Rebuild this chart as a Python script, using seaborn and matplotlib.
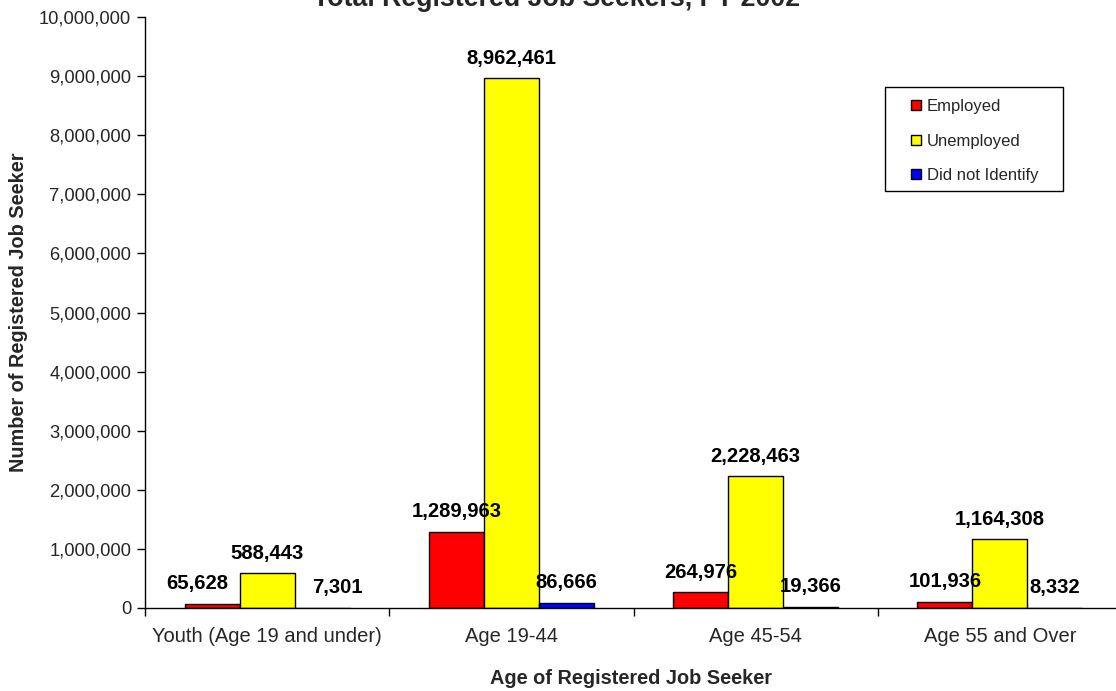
import matplotlib
matplotlib.use("Agg")
import matplotlib.pyplot as plt
import seaborn as sns
import pandas as pd
from matplotlib.ticker import FuncFormatter, FixedLocator
from matplotlib.lines import Line2D
from matplotlib.patches import Rectangle

categories = ["Youth (Age 19 and under)", "Age 19-44", "Age 45-54", "Age 55 and Over"]
series = ["Employed", "Unemployed", "Did not Identify"]
employed = [65628, 1289963, 264976, 101936]
unemployed = [588443, 8962461, 2228463, 1164308]
not_identified = [7301, 86666, 19366, 8332]
colors = ["#FF0000", "#FFFF00", "#0000FF"]
title = "Total Registered Job Seekers, FY 2002"
xlabel = "Age of Registered Job Seeker"
ylabel = "Number of Registered Job Seeker"
# horizontal nudges (px) for crowded labels, per series/category
label_dx = {("Employed", 0): -15, ("Did not Identify", 0): 15}

rows = []
for name, vals in zip(series, [employed, unemployed, not_identified]):
    for c, v in zip(categories, vals):
        rows.append({"Age": c, "Status": name, "Count": v})
df = pd.DataFrame(rows)

sns.set_theme(style="white")
plt.rcParams["font.family"] = ["Liberation Sans", "DejaVu Sans"]

W, H = 1116, 691
fig = plt.figure(figsize=(W / 100, H / 100), dpi=100)
ax = fig.add_axes([145 / W, 1 - 608 / H, (W - 145) / W, (608 - 17) / H])

sns.barplot(data=df, x="Age", y="Count", hue="Status", order=categories,
            hue_order=series, palette=colors, width=0.675, edgecolor="black",
            linewidth=1.0, saturation=1, ax=ax, legend=False, errorbar=None)

ax.set_ylim(0, 10_000_000)
ax.set_xlim(-0.5, 3.5 - 6 / 244)
ax.yaxis.set_major_locator(FixedLocator([i * 1_000_000 for i in range(11)]))
ax.yaxis.set_major_formatter(FuncFormatter(lambda v, p: f"{int(v):,}"))
ax.set_xticks(range(len(categories)))
ax.set_xticklabels(categories)
ax.xaxis.set_minor_locator(FixedLocator([-0.5, 0.5, 1.5, 2.5, 3.5]))
ax.tick_params(axis="x", which="major", length=0, pad=14, labelsize=14.5)
ax.tick_params(axis="x", which="minor", length=6, width=1, color="black", direction="out", bottom=True)
ax.tick_params(axis="y", which="major", length=6, width=1, color="black", direction="out",
               left=True, labelsize=13.2, pad=4)

for s in ["top", "right"]:
    ax.spines[s].set_visible(False)
for s in ["left", "bottom"]:
    ax.spines[s].set_color("black")
    ax.spines[s].set_linewidth(1)

# value labels
for container, name in zip(ax.containers, series):
    for i, bar in enumerate(container):
        h = bar.get_height()
        dx = label_dx.get((name, i), 0)
        ax.annotate(f"{int(h):,}", (bar.get_x() + bar.get_width() / 2, h),
                    xytext=(dx * 0.72, 14.5), textcoords="offset points",
                    ha="center", va="center", fontsize=14.6, fontweight="bold", color="black")

ax.set_xlabel(xlabel, fontsize=14.3, fontweight="bold", labelpad=16)
ax.set_ylabel(ylabel, fontsize=14.3, fontweight="bold", labelpad=7.8)
fig.text(557 / W, 1 - 6 / H, title, ha="center", va="baseline", fontsize=19.3, fontweight="bold")

# legend box (frame drawn separately to match the wider box of the original)
box = Rectangle((885 / W, 1 - 191 / H), (1063 - 885) / W, (191 - 87) / H,
                transform=fig.transFigure, facecolor="white",
                edgecolor="black", linewidth=1, zorder=4, clip_on=False)
ax.add_patch(box)
handles = [Line2D([], [], marker="s", linestyle="none", markersize=7.2,
                  markerfacecolor=c, markeredgecolor="black", markeredgewidth=1)
           for c in colors]
leg = ax.legend(handles, series, loc="upper left",
                bbox_to_anchor=((885 - 145) / 971, 1 - (85 - 17) / 591),
                frameon=False, fontsize=12,
                handlelength=2.0, handletextpad=-0.35, labelspacing=1.17,
                borderpad=0.85, borderaxespad=0)
leg.set_zorder(6)

fig.savefig("out.png", dpi=100)
